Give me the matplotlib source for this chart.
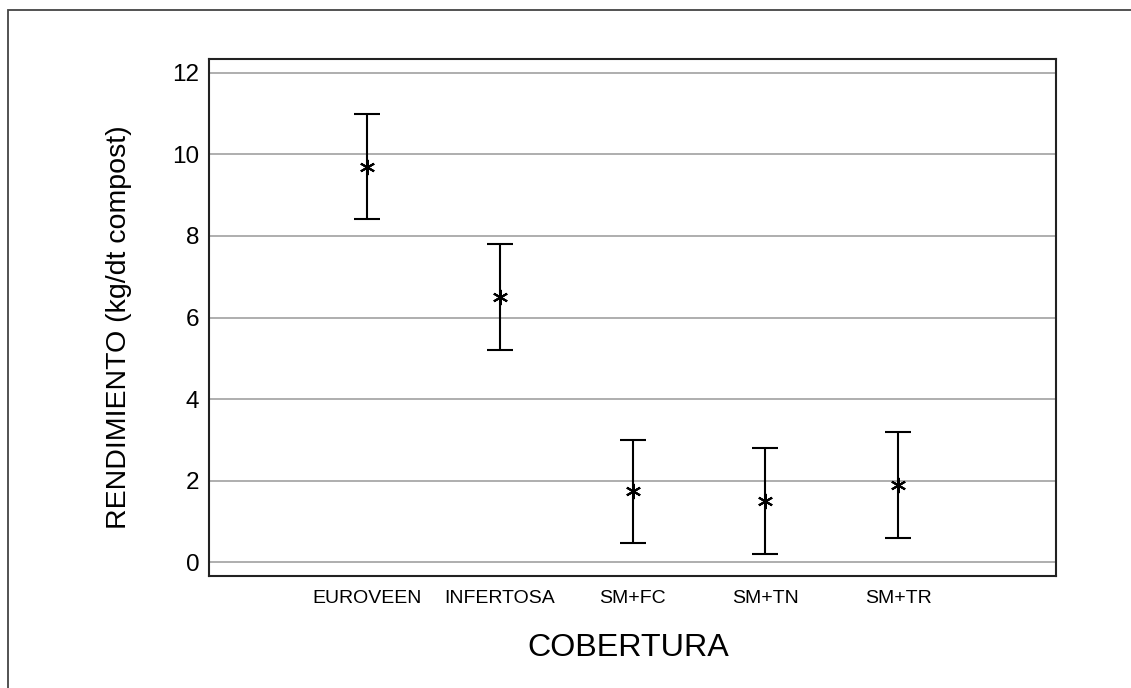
import matplotlib
matplotlib.use('Agg')
import matplotlib.pyplot as plt
from matplotlib.patches import Rectangle
import numpy as np

plt.rcParams['font.family'] = ['Liberation Sans', 'DejaVu Sans']

# data
categories = ['EUROVEEN', 'INFERTOSA', 'SM+FC', 'SM+TN', 'SM+TR']
means = [9.7, 6.5, 1.74, 1.51, 1.88]
upper = [11.0, 7.8, 3.0, 2.79, 3.19]
lower = [8.42, 5.2, 0.46, 0.21, 0.6]
yticks = [0, 2, 4, 6, 8, 10, 12]

W, H = 1131, 688
fig = plt.figure(figsize=(W / 100, H / 100), dpi=100)

# outer frame round the whole picture (right/bottom run off the edge)
fig.add_artist(Rectangle((8 / W, -0.1), 1.1, 1 - 10 / H + 0.1,
                         transform=fig.transFigure, fill=False,
                         edgecolor='#444444', lw=1.3, clip_on=False))

ax = fig.add_axes([209 / W, 1 - 576 / H, (1056 - 209) / W, (576 - 59) / H])

x = np.arange(1, len(categories) + 1)
means = np.array(means)
yerr = [means - np.array(lower), np.array(upper) - means]

ax.errorbar(x, means, yerr=yerr, fmt='none', ecolor='black', elinewidth=1.5,
            capsize=9.5, capthick=1.5, zorder=3)
ax.plot(x, means, linestyle='none', marker=(6, 2, 0), markersize=11,
        markeredgewidth=1.5, color='black', zorder=4)

ax.set_xlim(-0.19, 6.19)
ax.set_ylim(-0.34, 12.34)
ax.set_yticks(yticks)
ax.set_yticklabels([str(v) for v in yticks], fontsize=17.5)
ax.set_xticks(x)
ax.set_xticklabels(categories, fontsize=14)
ax.tick_params(axis='y', length=0, pad=7)
ax.tick_params(axis='x', length=0, pad=10)

ax.yaxis.grid(True, color='#999999', lw=1.1)
ax.set_axisbelow(True)
for s in ax.spines.values():
    s.set_linewidth(1.5)
    s.set_color('#222222')

ax.set_ylabel('RENDIMIENTO (kg/dt compost)', fontsize=20.5)
ax.set_xlabel('COBERTURA', fontsize=23.2)
ax.yaxis.set_label_coords(-0.091, 0.481)
ax.xaxis.set_label_coords(0.4953, -0.110)

fig.savefig('out.png', dpi=100)
